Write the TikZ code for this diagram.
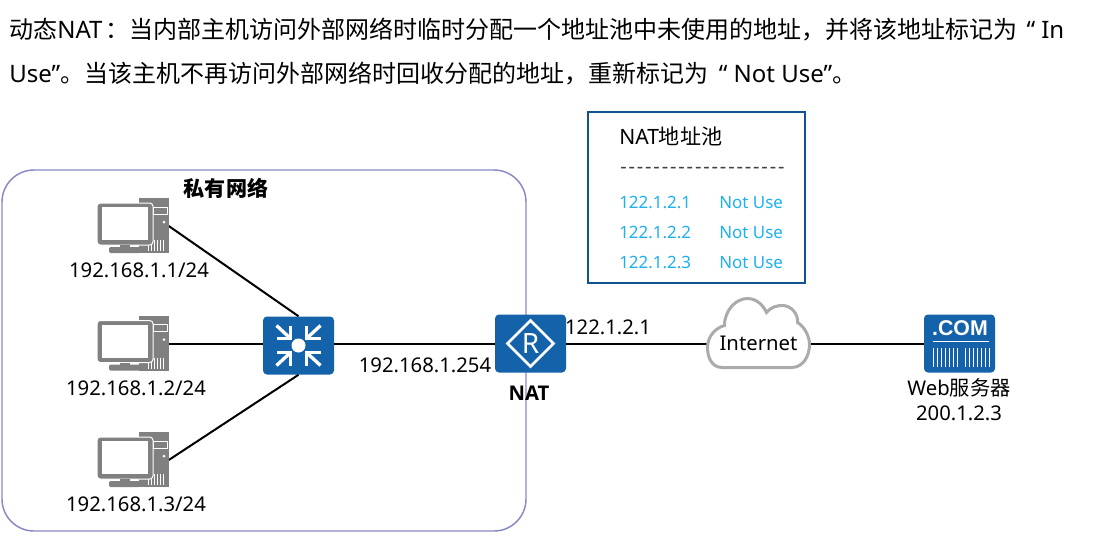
\documentclass[tikz,border=0pt]{standalone}
\usepackage{fontspec}
\setmainfont{Noto Sans}
\newfontfamily\cjk{Noto Sans CJK SC}
\newfontfamily\heavy{Open Sans}
\newfontfamily\comfont{Liberation Sans}
\newcommand{\zh}[1]{{\cjk #1}}
\definecolor{iconblue}{RGB}{20,98,170}
\definecolor{poolcyan}{RGB}{28,176,240}
\tikzset{
	device/.style={inner sep=0pt,minimum width=53.25pt,minimum height=43.5pt},
	iconbox/.style={device,fill=iconblue,rounded corners=3pt},
	link/.style={line width=1.5pt},
	label/.style={inner sep=0pt,font=\fontsize{15.2}{18}\selectfont},
	para/.style={inner sep=0pt,anchor=base west,font=\fontsize{18}{20}\selectfont},
	pooltext/.style={inner sep=0pt,anchor=base west,text=poolcyan,font=\fontsize{12.7}{15}\selectfont},
	pcicon/.pic={
		\fill [gray] (6,-28) rectangle (36,27);
		\draw [white,line width=0.6pt] (20,-19) rectangle (34,-12);
		\fill [white] (31,-4) circle (1.5);
		\foreach \barx in {15,18,...,30} {\draw [white,line width=0.5pt] (\barx,14) -- (\barx,25);}
		\draw [white,fill=gray,line width=0.75pt,rounded corners=2.5pt] (-36,-23) rectangle (20,19);
		\fill [white] (-31,-19) rectangle (15,14);
		\fill [gray] (-13,19) rectangle (-3,22);
		\fill [gray,rounded corners=1pt] (-24,21) rectangle (7,27);
	},
	swarrow/.pic={
		\draw [white,line width=2.5pt] (-22,-20) -- (-8,-7);
		\draw [white,line width=2.5pt] (-8,-20) -- (-8,-7) -- (-22,-7);
	},
	routericon/.pic={
		\draw [white,line width=1.9pt] (-23,0) -- (0,-23) -- (23,0) -- (0,23) -- cycle;
	},
	servericon/.pic={
		\draw [white,line width=1pt] (-27,-2) -- (29,-2);
		\foreach \barx in {-26,-22,...,-2} {\draw [white,line width=0.9pt] (\barx,4) -- (\barx,23);}
		\foreach \barx in {6,10,...,30} {\draw [white,line width=0.9pt] (\barx,4) -- (\barx,23);}
	},
	cloudicon/.pic={
		\draw [fill=white,draw=black!33,line width=2.25pt] (-36,24) .. controls (-48,24) and (-51,12) .. (-51,4) .. controls (-51,-8) and (-42,-16) .. (-34,-18) .. controls (-34,-34) and (-22,-45) .. (-11,-45) .. controls (-2,-45) and (5,-38) .. (8,-31) .. controls (13,-37) and (19,-38) .. (24,-38) .. controls (33,-38) and (40,-29) .. (39,-21) .. controls (46,-17) and (51,-7) .. (51,1) .. controls (51,12) and (45,24) .. (33,24) -- cycle;
	}
}
\begin{document}
\begin{tikzpicture}[x=0.75pt,y=0.75pt,yscale=-1,xscale=1]
	\useasboundingbox (0,0) rectangle (1106,547);
	% text above the figure
	\node [para] (intro1) at (9,38) {\zh{动态}NAT\kern2pt\zh{：当内部主机访问外部网络时临时分配一个地址池中未使用的地址，并将该地址标记为}\kern7pt“ In};
	\node [para] (intro2) at (9,82) {Use”\zh{。当该主机不再访问外部网络时回收分配的地址，重新标记为}\kern8pt“ Not Use”\zh{。}};
	% private network frame
	\draw [color={rgb, 255:red, 136; green, 136; blue, 196},line width=1.1pt,rounded corners=24pt] (2,170) rectangle (526,531);
	\node [label,font=\fontsize{15.8}{18}\selectfont\bfseries\cjk] (privnet) at (226,188) {私有网络};
	% address pool
	\draw [color=iconblue!85!black,line width=1.1pt] (588,112) rectangle (805,283);
	\node [para,font=\fontsize{15.8}{18}\selectfont] (pooltitle) at (619,144) {NAT\zh{地址池}};
	\node [para,font=\fontsize{15}{18}\selectfont,text=black!75] (pooldash) at (620,173) {\foreach \i in {1,...,20}{-\kern1.4pt}};
	\node [pooltext] (addr1) at (619,208) {122.1.2.1};
	\node [pooltext] (addr2) at (619,238) {122.1.2.2};
	\node [pooltext] (addr3) at (619,268) {122.1.2.3};
	\node [pooltext] (state1) at (719,208) {Not Use};
	\node [pooltext] (state2) at (719,238) {Not Use};
	\node [pooltext] (state3) at (719,268) {Not Use};
	% devices
	\node [device] (pc1) at (133,226) {};
	\node [device] (pc2) at (133,343.5) {};
	\node [device] (pc3) at (133,460) {};
	\node [iconbox] (sw) at (298.5,345.5) {};
	\node [iconbox] (nat) at (530.5,343.5) {};
	\node [iconbox] (web) at (959.5,343.5) {};
	\node [device,minimum width=76.5pt] (inet) at (758.5,343.5) {};
	\draw [link] (pc1.east) -- (sw.north);
	\draw [link] (pc2.east) -- (pc2.east -| sw.west);
	\draw [link] (pc3.east) -- (sw.south);
	\draw [link] (sw.east |- nat.west) -- (nat.west);
	\draw [link] (nat.east) -- (inet.west);
	\draw [link] (inet.east) -- (web.west);
	\pic [yscale=-1] at (pc1) {pcicon};
	\pic [yscale=-1] at (pc2) {pcicon};
	\pic [yscale=-1] at (pc3) {pcicon};
	\fill [white] (sw) circle (7);
	\pic at (sw) {swarrow};
	\pic [xscale=-1] at (sw) {swarrow};
	\pic [yscale=-1] at (sw) {swarrow};
	\pic [xscale=-1,yscale=-1] at (sw) {swarrow};
	\pic at (nat) {routericon};
	\node [inner sep=0pt,text=white,font=\fontsize{21}{24}\selectfont] (natr) at (530.5,343) {R};
	\pic [yscale=-1] at (web) {servericon};
	\node [inner sep=0pt,text=white,font=\fontsize{16}{18}\selectfont\bfseries\comfont] (webcom) at (960,328) {.COM};
	\pic [yscale=-1] at (inet) {cloudicon};
	\node [label] (inettext) at (inet) {Internet};
	% labels
	\node [label] (pc1ip) at (139,270) {192.168.1.1/24};
	\node [label] (pc2ip) at (136,388) {192.168.1.2/24};
	\node [label] (pc3ip) at (136,504) {192.168.1.3/24};
	\node [label] (natin) at (425,365) {192.168.1.254};
	\node [label] (natout) at (608,327) {122.1.2.1};
	\node [label,font=\fontsize{15.2}{18}\selectfont\heavy\bfseries] (natname) at (529,393) {NAT};
	\node [label] (webname) at (959,388) {Web\zh{服务器}};
	\node [label] (webip) at (959,413) {200.1.2.3};
\end{tikzpicture}
\end{document}
